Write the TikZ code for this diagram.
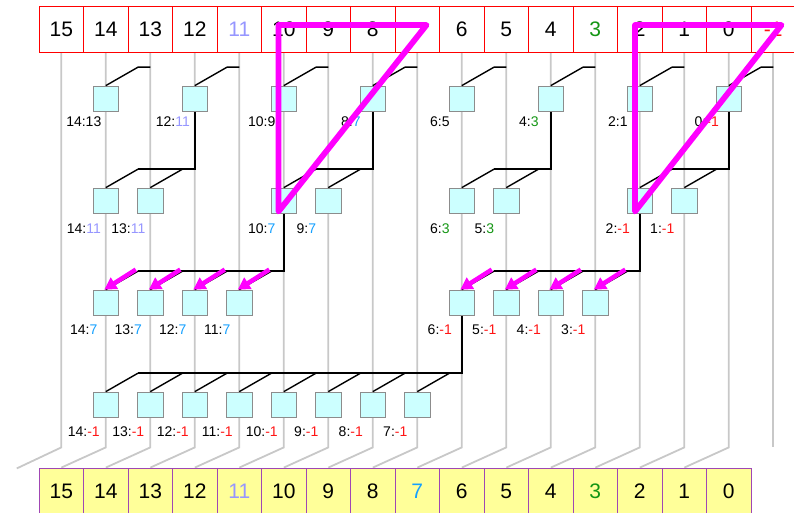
\documentclass[tikz,border=0pt]{standalone}
\usepackage{fontspec}
\setmainfont{Liberation Sans}
\usetikzlibrary{arrows.meta,calc,backgrounds}
\definecolor{cpurp}{RGB}{150,150,255}
\definecolor{cblue}{RGB}{20,160,255}
\definecolor{cgreen}{RGB}{20,150,20}
\definecolor{cred}{RGB}{255,20,20}
\definecolor{sqfill}{RGB}{204,255,255}
\definecolor{sqdraw}{RGB}{140,140,140}
\definecolor{wire}{RGB}{200,200,200}
\definecolor{botfill}{RGB}{255,255,153}
\definecolor{botdraw}{RGB}{160,70,180}
\definecolor{mag}{RGB}{255,0,255}
\newcommand\colx[1]{61.3+44.5*(15-(#1))}
\begin{document}
\begin{tikzpicture}[x=1pt,y=-1pt,
  sq/.style={draw=sqdraw, fill=sqfill, minimum width=25.5pt, minimum height=25.5pt, inner sep=0pt, line width=0.8pt},
  topcell/.style={draw=red, fill=white, minimum width=44.5pt, minimum height=46pt, inner sep=0pt, line width=0.8pt, font=\fontsize{21}{21}\selectfont},
  botcell/.style={draw=botdraw, fill=botfill, minimum width=44.5pt, minimum height=46pt, inner sep=0pt, line width=0.8pt, font=\fontsize{21}{21}\selectfont},
  lab/.style={inner sep=0pt, font=\fontsize{14}{14}\selectfont},
  wirel/.style={draw=wire, line width=1.8pt},
  conn/.style={draw=black, line width=1.4pt},
  marrow/.style={draw=mag, line width=4.5pt, -{Triangle[length=12pt,width=13pt]}},
  tri/.style={draw=mag, line width=5.8pt, line join=round, line cap=round}]
\useasboundingbox (0,0) rectangle (794,512);

% top register
\foreach \i/\n/\t in {15/15/15,14/14/14,13/13/13,12/12/12,11/11/{\textcolor{cpurp}{11}},10/10/10,9/9/9,8/8/8,7/7/{},6/6/6,5/5/5,4/4/4,3/3/{\textcolor{cgreen}{3}},2/2/2,1/1/1,0/0/0,-1/m1/{\textcolor{cred}{-1}}}
  \node[topcell] (t\n) at ({\colx{\i}},29) {\t};

% bottom register
\foreach \i/\t in {15/15,14/14,13/13,12/12,11/{\textcolor{cpurp}{11}},10/10,9/9,8/8,7/{\textcolor{cblue}{7}},6/6,5/5,4/4,3/{\textcolor{cgreen}{3}},2/2,1/1,0/0}
  \node[botcell] (b\i) at ({\colx{\i}},491) {\t};

% row 1
\foreach \i/\v in {14/13,12/{\textcolor{cpurp}{11}},10/9,8/{\textcolor{cblue}{7}},6/5,4/{\textcolor{cgreen}{3}},2/1,0/{\textcolor{cred}{-1}}}{
  \node[sq] (a\i) at ({\colx{\i}},98.75) {};
  \node[lab] (la\i) at ({\colx{\i}-22},121.7) {\i:\v};
  \draw[conn] (a\i.north) -- ++(32.3,-18.5) -- ++(12.2,0);
}
% row 2
\foreach \i/\v in {14/{\textcolor{cpurp}{11}},13/{\textcolor{cpurp}{11}},10/{\textcolor{cblue}{7}},9/{\textcolor{cblue}{7}},6/{\textcolor{cgreen}{3}},5/{\textcolor{cgreen}{3}},2/{\textcolor{cred}{-1}},1/{\textcolor{cred}{-1}}}{
  \node[sq] (c\i) at ({\colx{\i}},200.75) {};
  \node[lab] (lc\i) at ({\colx{\i}-22},228.3) {\i:\v};
  \draw[conn] (c\i.north) -- ++(32.3,-18.5);
}
\draw[conn] (a12.south) |- ($(c14.north)+(32.3,-18.5)$);
\draw[conn] (a8.south) |- ($(c10.north)+(32.3,-18.5)$);
\draw[conn] (a4.south) |- ($(c6.north)+(32.3,-18.5)$);
\draw[conn] (a0.south) |- ($(c2.north)+(32.3,-18.5)$);

% row 3
\foreach \i/\v in {14/{\textcolor{cblue}{7}},13/{\textcolor{cblue}{7}},12/{\textcolor{cblue}{7}},11/{\textcolor{cblue}{7}},6/{\textcolor{cred}{-1}},5/{\textcolor{cred}{-1}},4/{\textcolor{cred}{-1}},3/{\textcolor{cred}{-1}}}{
  \node[sq] (d\i) at ({\colx{\i}},302.75) {};
  \node[lab] (ld\i) at ({\colx{\i}-22},329.5) {\i:\v};
  \draw[conn] (d\i.north) -- ++(32.3,-18.5);
}
\draw[conn] (c10.south) |- ($(d14.north)+(32.3,-18.5)$);
\draw[conn] (c2.south) |- ($(d6.north)+(32.3,-18.5)$);

% row 4
\foreach \i in {14,13,12,11,10,9,8,7}{
  \node[sq] (e\i) at ({\colx{\i}},404.75) {};
  \node[lab] (le\i) at ({\colx{\i}-22},431.3) {\i:\textcolor{cred}{-1}};
  \draw[conn] (e\i.north) -- ++(32.3,-18.5);
}
\draw[conn] (d6.south) |- ($(e14.north)+(32.3,-18.5)$);

% wires behind everything
\begin{scope}[on background layer]
  \draw[wirel] (t15.south) -- ++(0,395) -- ++(-44.5,21);
  \foreach \i [evaluate=\i as \j using int(\i+1)] in {14,13,...,0}
    \draw[wirel] (t\i.south) -- ++(0,395) -- (b\j.north);
  \draw[wirel] (tm1.south) -- ++(0,395);
\end{scope}

% magenta arrows
\foreach \i in {14,13,12,11,6,5,4,3}
  \draw[marrow] ($(d\i.north)+(30,-20)$) -- ($(d\i.north)+(-1.5,0)$);

% magenta triangles
\coordinate (L1) at (278.5,211.5);
\coordinate (L2) at (278.5,25);
\coordinate (L3) at (426.5,25);
\coordinate (R1) at (635,211.5);
\coordinate (R2) at (635,25);
\coordinate (R3) at (781.5,25);
\draw[tri] (L1) -- (L2) -- (L3) -- cycle;
\draw[tri] (R1) -- (R2) -- (R3) -- cycle;
\end{tikzpicture}
\end{document}
